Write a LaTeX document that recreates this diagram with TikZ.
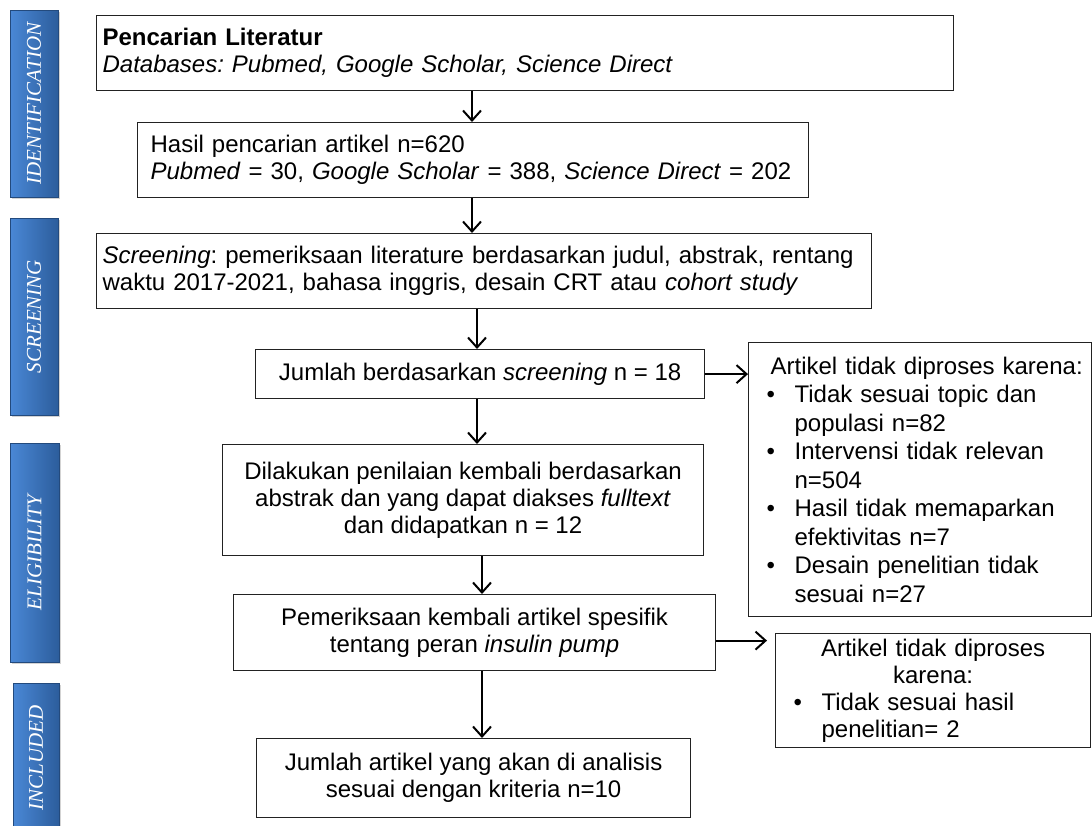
\documentclass[tikz,border=0pt]{standalone}
\usepackage{fontspec}
\setmainfont{Liberation Sans}
\newfontfamily\barfont{Liberation Serif}
\usetikzlibrary{arrows.meta, positioning, shadows}
\definecolor{barlight}{HTML}{4A88D6}
\definecolor{bardark}{HTML}{2C5D9C}
\definecolor{framegray}{HTML}{222222}
\newcommand{\itembul}[1]{\makebox[14pt][l]{\textbullet}#1}
\frenchspacing

\begin{document}
\begin{tikzpicture}[x=0.5pt, y=-0.5pt,
    box/.style={rectangle, draw=framegray, line width=0.6pt, inner xsep=3pt,
                inner ysep=0pt, anchor=north west,
                font=\fontsize{12}{13.5}\selectfont},
    phase/.style={rectangle, inner sep=0pt, left color=barlight, right color=bardark,
                  draw=bardark!80!black, line width=0.4pt,
                  drop shadow={shadow xshift=1.2pt, shadow yshift=-1.2pt, opacity=0.35}},
    phasetxt/.style={rotate=90, text=white, font=\barfont\itshape\fontsize{10.5}{12}\selectfont},
    arrow/.style={-{Straight Barb[length=5pt, width=9pt]}, line width=1pt}
]
\useasboundingbox (0,0) rectangle (1092,825);

% phase bars on the left
\node[phase, minimum width=24pt, minimum height=93.5pt,
      label={[phasetxt]center:IDENTIFICATION}] (pid) at (34,103.5) {};
\node[phase, minimum width=24pt, minimum height=98.5pt,
      label={[phasetxt]center:SCREENING}] (pscr) at (34,316.5) {};
\node[phase, minimum width=24.5pt, minimum height=109.5pt,
      label={[phasetxt]center:ELIGIBILITY}] (pel) at (34.5,552.5) {};
\node[phase, minimum width=23pt, minimum height=75pt,
      label={[phasetxt]center:INCLUDED}] (pin) at (36,758) {};

% main flow
\node[box, text width=422.5pt, minimum height=37.5pt, align=left] (src) at (96,15)
    {\textbf{Pencarian Literatur}\\\textit{Databases: Pubmed, Google Scholar, Science Direct}};
\node[box, inner xsep=6.5pt, text width=322.5pt, minimum height=37.5pt, align=left] (hits) at (137,122)
    {Hasil pencarian artikel n=620\\
     \textit{Pubmed} = 30, \textit{Google Scholar} = 388, \textit{Science Direct} = 202};
\node[box, text width=381.5pt, minimum height=37.5pt, align=left] (scr) at (96,233)
    {\textit{Screening}: pemeriksaan literature berdasarkan judul, abstrak, rentang\\
     waktu 2017-2021, bahasa inggris, desain CRT atau \textit{cohort study}};
\node[box, minimum width=224.5pt, minimum height=24.5pt, align=center] (sel) at (255,349)
    {Jumlah berdasarkan \textit{screening} n = 18};
\node[box, minimum width=240.5pt, minimum height=55.5pt, align=center] (elig) at (222,444)
    {Dilakukan penilaian kembali berdasarkan\\abstrak dan yang dapat diakses \textit{fulltext}\\dan didapatkan n = 12};
\node[box, minimum width=241pt, minimum height=38pt, align=center] (spec) at (233,594)
    {Pemeriksaan kembali artikel spesifik\\tentang peran \textit{insulin pump}};
\node[box, minimum width=217pt, minimum height=39.5pt, align=center] (incl) at (256,738)
    {Jumlah artikel yang akan di analisis\\sesuai dengan kriteria n=10};

% excluded records
\node[box, inner xsep=4pt, text width=163.5pt, minimum height=137pt, align=left,
      font=\fontsize{12}{14.25}\selectfont] (rej1) at (748,342)
    {\hspace*{7pt}Artikel tidak diproses karena:\\
     \hspace*{5pt}\itembul{Tidak sesuai topic dan}\\
     \hspace*{19pt}populasi n=82\\
     \hspace*{5pt}\itembul{Intervensi tidak relevan}\\
     \hspace*{19pt}n=504\\
     \hspace*{5pt}\itembul{Hasil tidak memaparkan}\\
     \hspace*{19pt}efektivitas n=7\\
     \hspace*{5pt}\itembul{Desain penelitian tidak}\\
     \hspace*{19pt}sesuai n=27};
\node[box, inner xsep=4pt, text width=149.5pt, minimum height=57pt] (rej2) at (775,633)
    {{\centering Artikel tidak diproses\\karena:\par}\raggedright
     \hspace*{5pt}\itembul{Tidak sesuai hasil}\\
     \hspace*{19pt}penelitian= 2};

% arrow columns
\coordinate (colT) at (472,0);
\coordinate (colM) at (477,0);
\coordinate (colB) at (482,0);

\draw[arrow] (src.south -| colT) -- (hits.north -| colT);
\draw[arrow] (hits.south -| colT) -- (scr.north -| colT);
\draw[arrow] (scr.south -| colM) -- (sel.north -| colM);
\draw[arrow] (sel.south -| colM) -- (elig.north -| colM);
\draw[arrow] (elig.south -| colB) -- (spec.north -| colB);
\draw[arrow] (spec.south -| colB) -- (incl.north -| colB);
\draw[arrow] (sel.east) -- (sel.east -| rej1.west);
\draw[arrow, shorten >=4pt] ([yshift=-4pt]spec.east) -- ([yshift=-4pt]spec.east -| rej2.west);

\end{tikzpicture}
\end{document}
